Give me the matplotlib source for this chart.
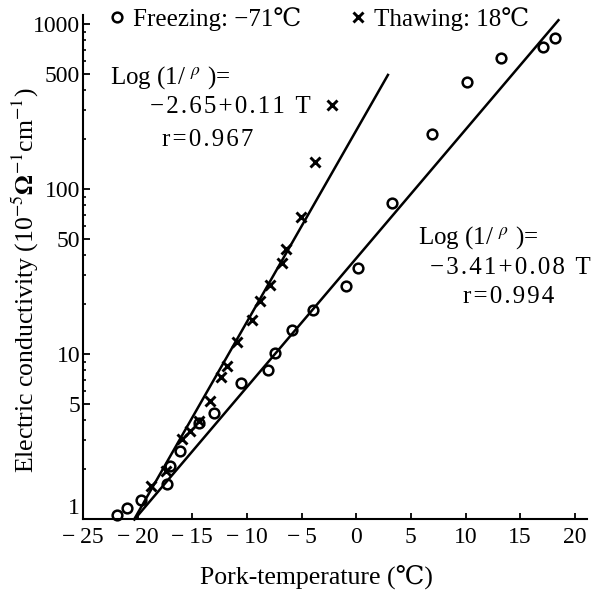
import matplotlib
matplotlib.use("Agg")
import matplotlib.pyplot as plt
import numpy as np
from matplotlib.ticker import FixedLocator, LogLocator, NullFormatter

# ---- data ----
freeze_T = [-21.9, -21.0, -19.7, -17.3, -17.0, -16.1, -14.4, -13.0, -10.5, -8.1,
            -7.4, -5.9, -4.0, -0.9, 0.2, 3.3, 6.9, 10.1, 13.2, 17.1, 18.2]
freeze_sigma = [1.06, 1.16, 1.30, 1.63, 2.10, 2.58, 3.8, 4.4, 6.7, 8.0,
                10.2, 14.0, 18.5, 26, 33, 82, 215, 445, 620, 725, 820]

thaw_T = [-18.8, -17.4, -15.9, -15.2, -14.4, -13.4, -12.4, -11.85, -10.9, -9.5,
          -8.8, -7.9, -6.8, -6.4, -5.1, -3.8, -2.25]
thaw_sigma = [1.59, 1.95, 3.05, 3.4, 3.95, 5.2, 7.3, 8.4, 11.9, 16.1,
              21.0, 26.2, 35.8, 43.0, 68, 146, 323]

# regression lines: log10(sigma) = a + b*T, drawn over T range
freeze_fit = {"a": 1.58, "b": 0.078, "T": [-20.3, 18.5]}
thaw_fit = {"a": 2.355, "b": 0.116, "T": [-20.3, 2.9]}

x_ticks = [-25, -20, -15, -10, -5, 0, 5, 10, 15, 20]
x_ticklabels = ["\u2212\u200925", "\u2212\u200920", "\u2212\u200915", "\u2212\u200910",
                "\u2212\u20095", "0", "5", "10", "15", "20"]
y_ticks = [1, 5, 10, 50, 100, 500, 1000]
y_ticklabels = ["1", "5", "10", "50", "100", "500", "1000"]

legend_labels = ["Freezing: \u221271\u2103", "Thawing: 18\u2103"]
xlabel = "Pork-temperature (\u2103)"
ylabel = r"Electric conductivity (10$^{-5}\mathbf{\Omega}^{-1}$cm$^{-1}$)"
eq_head = r"Log (1/ $^{\rho}$ )="
eq_thaw = ["\u22122.65+0.11 T", "r=0.967"]
eq_freeze = ["\u22123.41+0.08 T", "r=0.994"]


def spaced(s):
    return "\u200a".join(s)


# ---- styling ----
plt.rcParams["font.family"] = ["Liberation Serif", "DejaVu Serif", "Noto Sans CJK JP"]
plt.rcParams["mathtext.fontset"] = "stix"
FS = 17

W, H = 609, 590
fig = plt.figure(figsize=(W / 100, H / 100), dpi=100)
L, R, T, B = 83, 587, 15, 519
ax = fig.add_axes([L / W, 1 - B / H, (R - L) / W, (B - T) / H])

ax.set_yscale("log")
ax.set_xlim(-25, -25 + (R - L) / 10.93)
ax.set_ylim(1, 10 ** ((B - T) / 165))

ax.plot(freeze_T, freeze_sigma, linestyle="none", marker="o", markersize=7,
        markerfacecolor="none", markeredgecolor="black", markeredgewidth=1.8,
        label=legend_labels[0], clip_on=False, zorder=3)
ax.plot(thaw_T, thaw_sigma, linestyle="none", marker="x", markersize=6.5,
        color="black", markeredgewidth=2.1, label=legend_labels[1],
        clip_on=False, zorder=3)

for fit in (freeze_fit, thaw_fit):
    t = np.array(fit["T"])
    ax.plot(t, 10 ** (fit["a"] + fit["b"] * t), color="black", lw=1.8,
            clip_on=False, zorder=2)

for s in ("top", "right"):
    ax.spines[s].set_visible(False)
for s in ("left", "bottom"):
    ax.spines[s].set_linewidth(1.5)

ax.xaxis.set_major_locator(FixedLocator(x_ticks))
ax.set_xticklabels(x_ticklabels, fontsize=FS)
ax.yaxis.set_major_locator(FixedLocator(y_ticks))
ax.set_yticklabels(y_ticklabels, fontsize=FS)
ax.yaxis.set_minor_locator(LogLocator(base=10, subs=(2, 3, 4, 6, 7, 8, 9)))
ax.yaxis.set_minor_formatter(NullFormatter())
ax.tick_params(axis="x", direction="in", length=4, width=1.3, pad=6)
ax.tick_params(axis="y", which="major", direction="in", length=5, width=1.3, pad=2)
ax.tick_params(axis="y", which="minor", direction="in", length=2.5, width=1.2)
for lab in ax.get_yticklabels():
    if lab.get_text() == "1":
        lab.set_verticalalignment("bottom")

fig.text(316 / W, 1 - 577 / H, xlabel, fontsize=18.5, ha="center", va="center")
fig.text(25 / W, 1 - 280 / H, ylabel, fontsize=18.5, ha="center", va="center",
         rotation=90)

fig.text(110 / W, 1 - 78 / H, eq_head, fontsize=18, ha="left", va="center")
for txt, (x, y) in zip(eq_thaw, [(150, 107), (162, 140)]):
    fig.text(x / W, 1 - y / H, spaced(txt), fontsize=18, ha="left", va="center")
fig.text(418 / W, 1 - 238 / H, eq_head, fontsize=18, ha="left", va="center")
for txt, (x, y) in zip(eq_freeze, [(430, 268), (463, 297)]):
    fig.text(x / W, 1 - y / H, spaced(txt), fontsize=18, ha="left", va="center")

leg = ax.legend(ncol=2, loc="center left", frameon=False, fontsize=18,
                bbox_to_anchor=(108 / W, 1 - 19 / H), bbox_transform=fig.transFigure,
                borderpad=0, borderaxespad=0, handlelength=0.7, handletextpad=0.3,
                columnspacing=1.9)

fig.savefig("out.png", dpi=100)
